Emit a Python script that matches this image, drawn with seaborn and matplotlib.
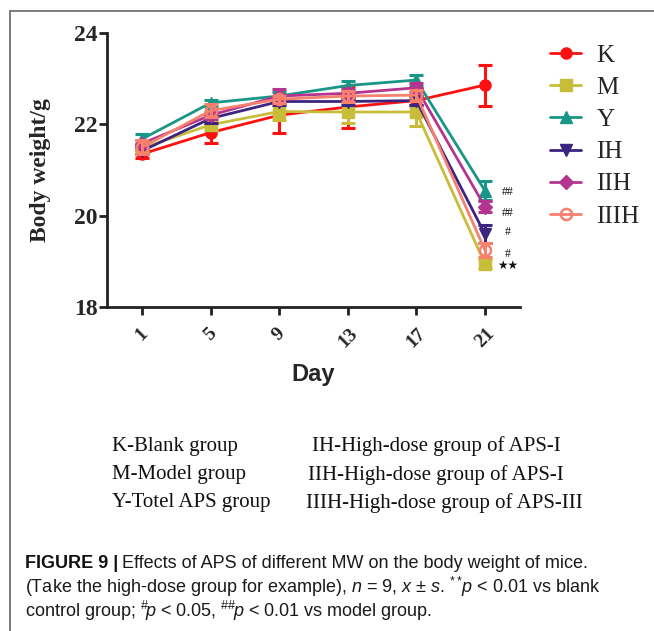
import matplotlib
matplotlib.use("Agg")
import matplotlib.pyplot as plt
from matplotlib.lines import Line2D
import seaborn as sns
import numpy as np

# ---------------- data ----------------
days = [1, 5, 9, 13, 17, 21]
day_labels = ["1", "5", "9", "13", "17", "21"]
groups = ["K", "M", "Y", "IH", "IIH", "IIIH"]

k_mean = [21.35, 21.82, 22.20, 22.38, 22.52, 22.86]
k_sd = [0.08, 0.22, 0.38, 0.45, 0.10, 0.45]
m_mean = [21.48, 21.99, 22.28, 22.27, 22.27, 18.95]
m_sd = [0.08, 0.12, 0.18, 0.25, 0.30, 0.10]
y_mean = [21.68, 22.47, 22.62, 22.85, 22.97, 20.55]
y_sd = [0.10, 0.06, 0.08, 0.10, 0.12, 0.20]
ih_mean = [21.42, 22.13, 22.50, 22.50, 22.52, 19.60]
ih_sd = [0.08, 0.10, 0.08, 0.08, 0.10, 0.20]
iih_mean = [21.58, 22.20, 22.62, 22.68, 22.80, 20.20]
iih_sd = [0.08, 0.08, 0.15, 0.10, 0.10, 0.12]
iiih_mean = [21.50, 22.30, 22.55, 22.62, 22.64, 19.25]
iiih_sd = [0.15, 0.15, 0.08, 0.12, 0.12, 0.15]

means = [k_mean, m_mean, y_mean, ih_mean, iih_mean, iiih_mean]
sds = [k_sd, m_sd, y_sd, ih_sd, iih_sd, iiih_sd]

sig_labels = ["##", "##", "#", "#", "★★"]
sig_y = [20.52, 20.05, 19.65, 19.17, 18.90]

group_notes_left = ["K-Blank group", "M-Model group", "Y-Totel APS group"]
group_notes_right = ["IH-High-dose group of APS-I", "IIH-High-dose group of APS-I",
                     "IIIH-High-dose group of APS-III"]

# ---------------- style ----------------
colors = ["#ff1010", "#c8bd38", "#1a9686", "#3c2480", "#b3358f", "#f7806e"]
markers = ["o", "s", "^", "v", "D", "o"]
msizes = [8, 8, 8, 8, 7, 8]
hollow = [False, False, False, False, False, True]

sns.set_theme(style="white")
plt.rcParams["font.family"] = ["Liberation Serif", "DejaVu Serif"]
plt.rcParams["mathtext.fontset"] = "custom"
plt.rcParams["mathtext.rm"] = "Liberation Sans"
plt.rcParams["mathtext.it"] = "Liberation Sans:italic"

W, H = 654, 631
fig = plt.figure(figsize=(W / 100, H / 100), dpi=100)
ax = fig.add_axes([107 / W, 1 - 307 / H, (520 - 107) / W, (307 - 33) / H])

for i, g in enumerate(groups):
    c = colors[i]
    ax.errorbar(days, means[i], yerr=sds[i], fmt="none", ecolor=c,
                elinewidth=2.2, capsize=5, capthick=2.2, zorder=2 + i)
    sns.lineplot(x=days, y=means[i], ax=ax, color=c, marker=markers[i],
                 markersize=msizes[i], linewidth=2.0,
                 markeredgecolor=c, markeredgewidth=1.8 if hollow[i] else 1,
                 markerfacecolor="none" if hollow[i] else c,
                 errorbar=None, legend=False, zorder=2.5 + i)

ax.set_xlim(-1.05, 23.05)
ax.set_ylim(18, 24)
ax.set_yticks([18, 20, 22, 24])
ax.set_xticks(days)
ax.set_xticklabels(day_labels, rotation=45, ha="center", va="top",
                   fontsize=14, fontweight="bold")
for lab in ax.get_yticklabels():
    lab.set_fontsize(17)
    lab.set_fontweight("bold")

for s in ["top", "right"]:
    ax.spines[s].set_visible(False)
for s in ["left", "bottom"]:
    ax.spines[s].set_linewidth(2)
    ax.spines[s].set_color("#222222")
ax.tick_params(axis="both", which="major", direction="out", length=6, width=2,
               color="#222222", left=True, bottom=True, pad=1)
ax.tick_params(axis="x", pad=7)

ax.set_ylabel("Body weight/g", fontsize=17, fontweight="bold", labelpad=16)
ax.set_xlabel("Day", fontsize=17, fontweight="bold",
              fontfamily=["Liberation Sans", "DejaVu Sans"], labelpad=9)

for lab, yv in zip(sig_labels, sig_y):
    fam = ["DejaVu Sans"] if "★" in lab else ["Liberation Serif"]
    ax.text(22.35, yv, lab, fontsize=8.5, ha="center", va="center",
            family=fam, color="#111111")

handles = []
for i, g in enumerate(groups):
    handles.append(Line2D([0], [0], color=colors[i], marker=markers[i],
                          markersize=msizes[i], linewidth=2.0,
                          markeredgecolor=colors[i],
                          markeredgewidth=1.8 if hollow[i] else 1,
                          markerfacecolor="none" if hollow[i] else colors[i]))
fig.legend(handles, groups, loc="upper left",
           bbox_to_anchor=(540 / W, 1 - 34 / H), frameon=False,
           fontsize=18, handlelength=1.25, handletextpad=0.6,
           labelspacing=0.39, borderaxespad=0)

# frame lines of the figure panel
fig.add_artist(Line2D([10 / W, 10 / W], [0, 1 - 11 / H], color="#666666",
                      linewidth=1.2, transform=fig.transFigure))
fig.add_artist(Line2D([10 / W, 1], [1 - 11 / H, 1 - 11 / H], color="#666666",
                      linewidth=1.2, transform=fig.transFigure))

# group notes
left_y = [446, 475, 503]
for t, yy in zip(group_notes_left, left_y):
    fig.text(112 / W, 1 - yy / H, t, fontsize=15, va="center", ha="left",
             color="#111111")
right_x = [312, 308, 306]
for t, xx, yy in zip(group_notes_right, right_x, left_y):
    fig.text(xx / W, 1 - yy / H, t, fontsize=15, va="center", ha="left",
             color="#111111")

# caption
cap_font = ["Liberation Sans", "DejaVu Sans"]
fig.canvas.draw()
r = fig.canvas.get_renderer()
t1 = fig.text(25 / W, 1 - 563 / H, "FIGURE 9 |", fontsize=13, fontweight="bold",
              family=cap_font, va="center", ha="left", color="#111111")
bb = t1.get_window_extent(renderer=r)
fig.text((bb.x1 + 4) / W, 1 - 563 / H, "Effects of APS of different MW on the body weight of mice.",
         fontsize=13, family=cap_font, va="center", ha="left", color="#1a1a1a")
fig.text(25 / W, 1 - 587 / H,
         r"(Take the high-dose group for example), $n$ = 9, $x$ ± $s$. $^{**}\!p$ < 0.01 vs blank",
         fontsize=13, family=cap_font, va="center", ha="left", color="#1a1a1a")
fig.text(25 / W, 1 - 611 / H,
         r"control group; $^{\#}\!p$ < 0.05, $^{\#\#}\!p$ < 0.01 vs model group.",
         fontsize=13, family=cap_font, va="center", ha="left", color="#1a1a1a")

fig.savefig("out.png", dpi=100)
